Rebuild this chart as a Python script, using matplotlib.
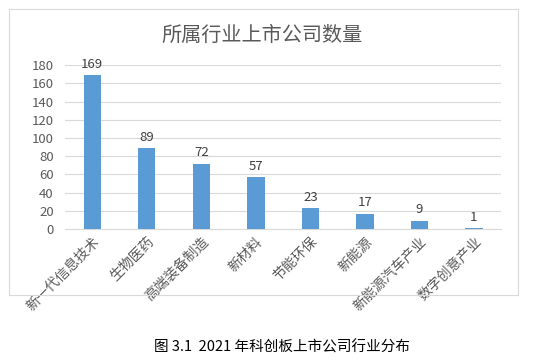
import matplotlib
matplotlib.use("Agg")
import matplotlib.pyplot as plt
from matplotlib.patches import Rectangle
import numpy as np

plt.rcParams['font.family'] = ['Noto Sans CJK SC', 'DejaVu Sans']

industries = ["新一代信息技术", "生物医药", "高端装备制造", "新材料", "节能环保",
              "新能源", "新能源汽车产业", "数字创意产业"]
counts = [169, 89, 72, 57, 23, 17, 9, 1]
yticks = list(range(0, 181, 20))

fig = plt.figure(figsize=(5.46, 3.62), dpi=100)
ax = fig.add_axes([0.119, 0.367, 0.799, 0.453])

x = np.arange(len(industries))
ax.bar(x, counts, width=0.32, color="#5B9BD5", zorder=3)
for xi, v in zip(x, counts):
    ax.text(xi, v + 5, str(v), ha="center", va="bottom", fontsize=9.5, color="#404040")

ax.set_xlim(-0.5, len(industries) - 0.5)
ax.set_ylim(0, 180)
ax.set_yticks(yticks)
ax.tick_params(axis="y", length=0, labelsize=9.5, labelcolor="#595959", pad=8)
ax.tick_params(axis="x", length=0, pad=4)
ax.set_xticks(x)
ax.set_xticklabels(industries, rotation=45, ha="right", va="top",
                   rotation_mode="anchor", fontsize=10, color="#595959")
ax.grid(axis="y", color="#D9D9D9", linewidth=0.8, zorder=0)
for s in ["top", "right", "left"]:
    ax.spines[s].set_visible(False)
ax.spines["bottom"].set_color("#D9D9D9")

fig.text(0.48, 0.903, "所属行业上市公司数量", ha="center", va="center",
         fontsize=14.5, color="#595959")
fig.patches.append(Rectangle((9 / 546, 1 - 295 / 362), 509 / 546, 286 / 362,
                             transform=fig.transFigure, fill=False,
                             edgecolor="#D9D9D9", linewidth=0.8))
fig.text(0.516, 1 - 347 / 362, "图 3.1  2021 年科创板上市公司行业分布", ha="center",
         va="center", fontsize=10.5, color="#000000")

fig.savefig("out.png", dpi=100)
